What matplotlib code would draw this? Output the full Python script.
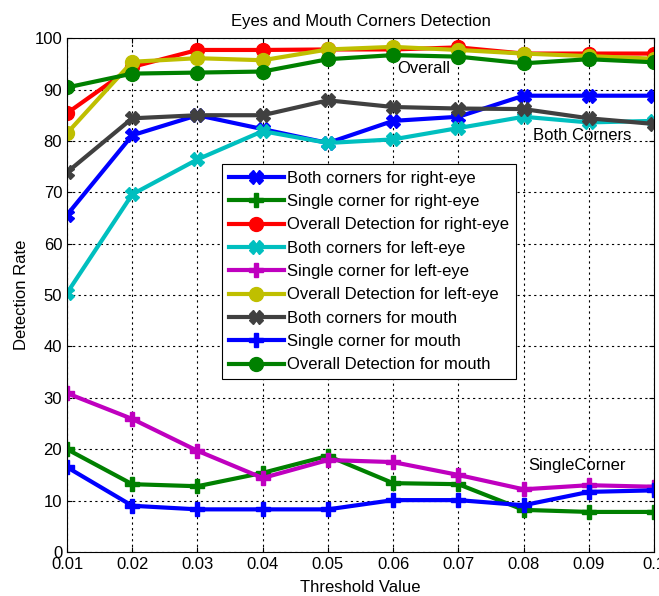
import numpy as np
import matplotlib
matplotlib.use('Agg')
import matplotlib.pyplot as plt

plt.rcParams['font.family'] = ['Liberation Sans', 'DejaVu Sans']

thresholds = [0.01, 0.02, 0.03, 0.04, 0.05, 0.06, 0.07, 0.08, 0.09, 0.1]
xtick_labels = ['0.01', '0.02', '0.03', '0.04', '0.05', '0.06', '0.07', '0.08', '0.09', '0.1']

both_right = [65.6, 81.1, 85.0, 82.3, 79.6, 83.9, 84.7, 88.8, 88.8, 88.8]
single_right = [20.0, 13.2, 12.8, 15.4, 18.7, 13.4, 13.2, 8.2, 7.8, 7.8]
overall_right = [85.4, 94.4, 97.7, 97.7, 97.8, 97.8, 98.2, 97.0, 97.0, 97.0]
both_left = [50.4, 69.6, 76.4, 81.9, 79.6, 80.3, 82.5, 84.7, 83.6, 83.9]
single_left = [30.9, 25.9, 19.7, 14.4, 17.9, 17.5, 15.0, 12.2, 13.0, 12.7]
overall_left = [81.5, 95.4, 96.1, 95.7, 97.8, 98.3, 97.7, 97.0, 96.5, 96.0]
both_mouth = [73.9, 84.4, 85.0, 85.0, 87.9, 86.6, 86.3, 86.2, 84.4, 83.3]
single_mouth = [16.5, 9.0, 8.3, 8.3, 8.3, 10.1, 10.1, 9.1, 11.7, 12.0]
overall_mouth = [90.4, 93.1, 93.3, 93.5, 95.9, 96.7, 96.4, 95.1, 95.9, 95.3]

series = [
    ('Both corners for right-eye', both_right, (0, 0, 1), 'X'),
    ('Single corner for right-eye', single_right, (0, 0.5, 0), 'P'),
    ('Overall Detection for right-eye', overall_right, (1, 0, 0), 'o'),
    ('Both corners for left-eye', both_left, (0, 0.75, 0.75), 'X'),
    ('Single corner for left-eye', single_left, (0.75, 0, 0.75), 'P'),
    ('Overall Detection for left-eye', overall_left, (0.75, 0.75, 0), 'o'),
    ('Both corners for mouth', both_mouth, (0.25, 0.25, 0.25), 'X'),
    ('Single corner for mouth', single_mouth, (0, 0, 1), 'P'),
    ('Overall Detection for mouth', overall_mouth, (0, 0.5, 0), 'o'),
]

fig = plt.figure(figsize=(6.59, 5.96), dpi=100)
ax = fig.add_axes([0.1017, 0.0738, 0.8907, 0.8622])

for label, vals, col, mk in series:
    ax.plot(thresholds, vals, color=col, marker=mk, lw=3, ms=10, label=label)

ax.set_xlim(0.01, 0.1)
ax.set_ylim(0, 100)
ax.set_xticks(thresholds)
ax.set_xticklabels(xtick_labels)
ax.set_yticks(np.arange(0, 101, 10))
ax.tick_params(direction='in', top=True, right=True, labelsize=12)
ax.grid(True, color='k', linestyle=(0, (2, 3)), linewidth=0.8)

ax.set_title('Eyes and Mouth Corners Detection', fontsize=12, pad=9)
ax.set_xlabel('Threshold Value', fontsize=12, labelpad=6)
ax.set_ylabel('Detection Rate', fontsize=12)

ax.text(0.0606, 93.3, 'Overall', fontsize=12)
ax.text(0.0815, 80.2, 'Both Corners', fontsize=12)
ax.text(0.0807, 15.9, 'SingleCorner', fontsize=12)

leg = ax.legend(loc='upper left', bbox_to_anchor=(0.264, 0.755), fontsize=12,
                handlelength=3.3, fancybox=False, edgecolor='k', framealpha=1,
                labelspacing=0.5, borderpad=0.4, handletextpad=0.2,
                borderaxespad=0)
leg.get_frame().set_linewidth(0.8)

fig.savefig('out.png', dpi=100)
